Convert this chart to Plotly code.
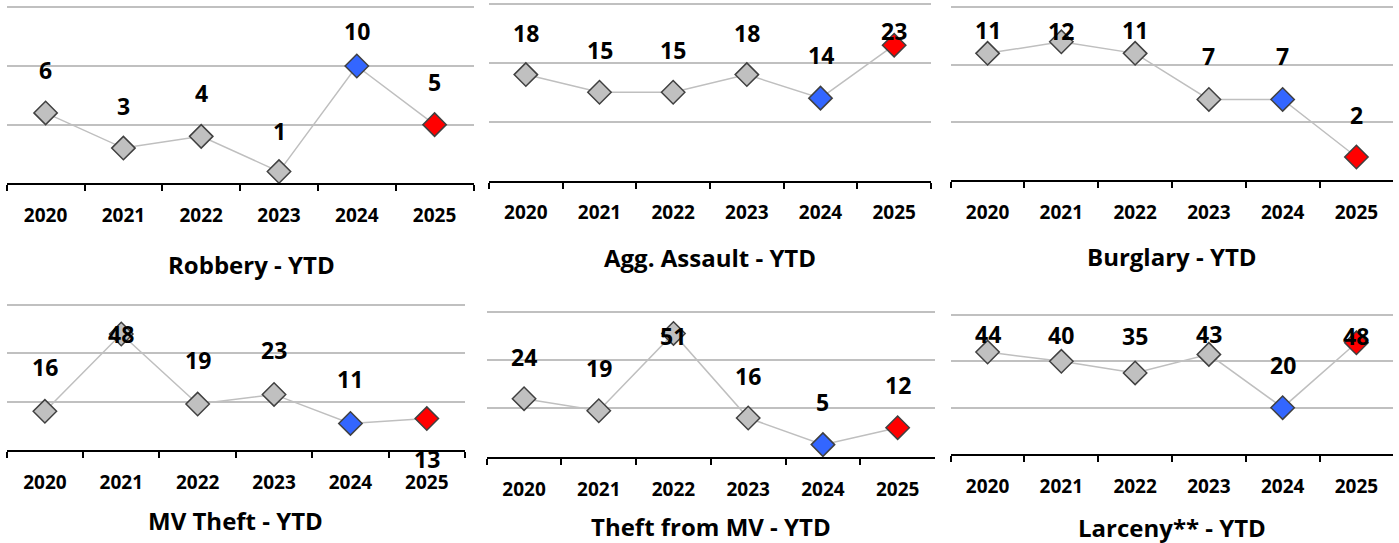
import plotly.graph_objects as go

# ---------------- data ----------------
years = ["2020", "2021", "2022", "2023", "2024", "2025"]
titles = ["Robbery - YTD", "Agg. Assault - YTD", "Burglary - YTD",
          "MV Theft - YTD", "Theft from MV - YTD", "Larceny** - YTD"]
robbery = [6, 3, 4, 1, 10, 5]
agg_assault = [18, 15, 15, 18, 14, 23]
burglary = [11, 12, 11, 7, 7, 2]
mv_theft = [16, 48, 19, 23, 11, 13]
theft_from_mv = [24, 19, 51, 16, 5, 12]
larceny = [44, 40, 35, 43, 20, 48]
series = [robbery, agg_assault, burglary, mv_theft, theft_from_mv, larceny]
y_max = [15, 30, 15, 60, 60, 60]
y_step = [5, 10, 5, 20, 20, 20]

# ---------------- styling / layout ----------------
W, H = 1399, 543
# plot boxes in pixels: (left, right, top gridline, baseline)
boxes = [(6.7, 473.5, 7.3, 183.3), (489, 931, 4, 180.5), (950.7, 1393.3, 7.3, 180),
         (6.7, 465, 305, 450), (486.7, 935, 311.7, 456.7), (950.7, 1393.3, 315, 454)]
# vertical pixel shift of each data label relative to its marker
label_shift = [[43, 42, 43, 41, 35, 43],
               [42, 42, 42, 42, 43, 14],
               [23, 11, 23, 43, 43, 42],
               [44, 0, 44, 44, 44, -40],
               [42, 43, -3, 42, 43, 43],
               [18, 26, 37, 20, 43, 7]]
title_y = [264, 257, 256, 520, 526, 527]
title_dx = [11, 0, 0, 0, 0, 0]
point_colors = ["#C0C0C0", "#C0C0C0", "#C0C0C0", "#C0C0C0", "#3366FF", "#FF0000"]
FONT = "Open Sans"
PAD = 2.5

fig = go.Figure()
layout = dict(width=W, height=H, margin=dict(l=0, r=0, t=0, b=0),
              paper_bgcolor="white", plot_bgcolor="white", showlegend=False)
annotations = []

for i, vals in enumerate(series):
    sfx = "" if i == 0 else str(i + 1)
    xa, ya = "x" + sfx, "y" + sfx
    L, R, T, B = boxes[i]
    h = B - T
    rmax = y_max[i] * (h + PAD) / h
    fig.add_trace(go.Scatter(
        x=years, y=vals, mode="lines+markers", xaxis=xa, yaxis=ya,
        line=dict(color="#BFBFBF", width=1.5),
        marker=dict(symbol="diamond", size=18, color=point_colors,
                    line=dict(color="#404040", width=1.5)),
        cliponaxis=False, hoverinfo="skip"))
    layout["xaxis" + sfx] = dict(
        domain=[L / W, R / W], anchor=ya, type="category",
        categoryorder="array", categoryarray=years, range=[-0.5, 5.5],
        tickson="boundaries", ticks="outside", ticklen=6, tickwidth=2,
        tickcolor="black", showline=True, linecolor="black", linewidth=2,
        showgrid=False, zeroline=False, ticklabelstandoff=14,
        tickfont=dict(family=FONT, size=19, color="black", weight="bold"),
        fixedrange=True)
    layout["yaxis" + sfx] = dict(
        domain=[1 - B / H, 1 - (T - PAD) / H], anchor=xa,
        range=[0, rmax], tick0=0, dtick=y_step[i], showticklabels=False,
        ticks="", showgrid=True, gridcolor="#C0C0C0", gridwidth=1.5,
        zeroline=False, showline=False, fixedrange=True)
    for j, v in enumerate(vals):
        annotations.append(dict(
            x=j, y=v, xref=xa, yref=ya, text=str(v), showarrow=False,
            yshift=label_shift[i][j], xanchor="center", yanchor="middle",
            font=dict(family=FONT, size=23, color="black", weight="bold")))
    annotations.append(dict(
        x=((L + R) / 2 + title_dx[i]) / W, y=1 - title_y[i] / H,
        xref="paper", yref="paper", text=titles[i], showarrow=False,
        xanchor="center", yanchor="middle",
        font=dict(family=FONT, size=24, color="black", weight="bold")))

layout["annotations"] = annotations
fig.update_layout(**layout)
fig.write_html("out.html", config={"displayModeBar": False},
               post_script="document.body.style.margin='0';"
                           "document.body.style.padding='0';")
